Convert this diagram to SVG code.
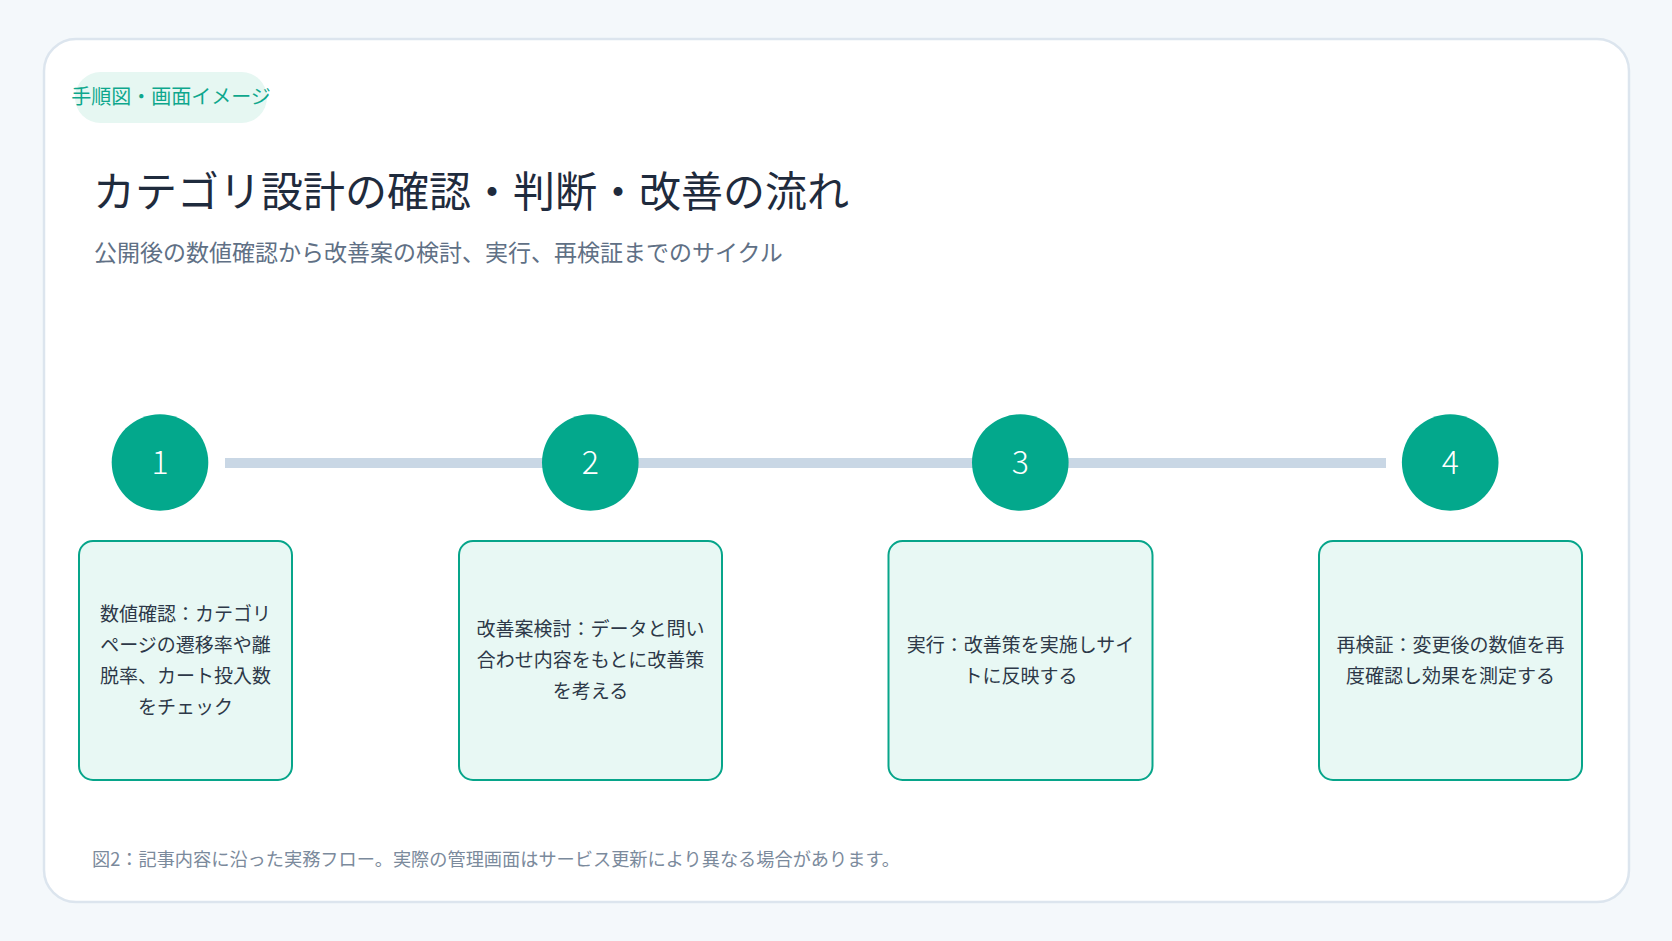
<svg xmlns="http://www.w3.org/2000/svg" width="1672" height="941" viewBox="0 0 1672 941">
<style>
text{font-family:"Noto Sans CJK JP","Noto Sans",sans-serif}
.box{fill:#e8f8f4;stroke:#07a58a;stroke-width:2}
.circ{fill:#03a88c}
.num{fill:#ffffff;font-size:32px;text-anchor:middle;font-weight:300}
.bt{fill:#2d3848;font-size:19px;text-anchor:middle}
</style>
<rect x="0" y="0" width="1672" height="941" fill="#f4f8fb"/>
<rect id="card" x="44" y="39" width="1585" height="863" rx="32" fill="#ffffff" stroke="#dce5ee" stroke-width="2.5"/>
<g id="tag">
<rect x="75" y="72" width="192" height="51" rx="25.5" fill="#e6f7f2"/>
<text x="171" y="104" font-size="20" fill="#0ea78d" text-anchor="middle">手順図・画面イメージ</text>
</g>
<text id="title" x="93" y="207" font-size="42" fill="#1f2b3d">カテゴリ設計の確認・判断・改善の流れ</text>
<text id="subtitle" x="94" y="261" font-size="23" fill="#607085">公開後の数値確認から改善案の検討、実行、再検証までのサイクル</text>
<g id="connectors">
<rect x="225" y="458" width="1161" height="10" fill="#c9d7e5"/>
</g>
<g id="step1">
<circle class="circ" cx="160" cy="462.5" r="48.3"/>
<text class="num" x="160" y="474">1</text>
<rect class="box" x="79" y="541" width="213" height="239" rx="14"/>
<text class="bt" x="185.5" y="620.5">数値確認：カテゴリ</text>
<text class="bt" x="185.5" y="651.5">ページの遷移率や離</text>
<text class="bt" x="185.5" y="682.5">脱率、カート投入数</text>
<text class="bt" x="185.5" y="713.5">をチェック</text>
</g>
<g id="step2">
<circle class="circ" cx="590.3" cy="462.5" r="48.3"/>
<text class="num" x="590.3" y="474">2</text>
<rect class="box" x="459" y="541" width="263" height="239" rx="14"/>
<text class="bt" x="590.5" y="636">改善案検討：データと問い</text>
<text class="bt" x="590.5" y="667">合わせ内容をもとに改善策</text>
<text class="bt" x="590.5" y="698">を考える</text>
</g>
<g id="step3">
<circle class="circ" cx="1020.3" cy="462.5" r="48.3"/>
<text class="num" x="1020.3" y="474">3</text>
<rect class="box" x="888.5" y="541" width="264" height="239" rx="14"/>
<text class="bt" x="1020.5" y="651.5">実行：改善策を実施しサイ</text>
<text class="bt" x="1020.5" y="682.5">トに反映する</text>
</g>
<g id="step4">
<circle class="circ" cx="1450.2" cy="462.5" r="48.3"/>
<text class="num" x="1450.2" y="474">4</text>
<rect class="box" x="1319" y="541" width="263" height="239" rx="14"/>
<text class="bt" x="1450.5" y="651.5">再検証：変更後の数値を再</text>
<text class="bt" x="1450.5" y="682.5">度確認し効果を測定する</text>
</g>
<text id="footer" x="92" y="866" font-size="18.2" fill="#7b8a9c">図2：記事内容に沿った実務フロー。実際の管理画面はサービス更新により異なる場合があります。</text>
</svg>
